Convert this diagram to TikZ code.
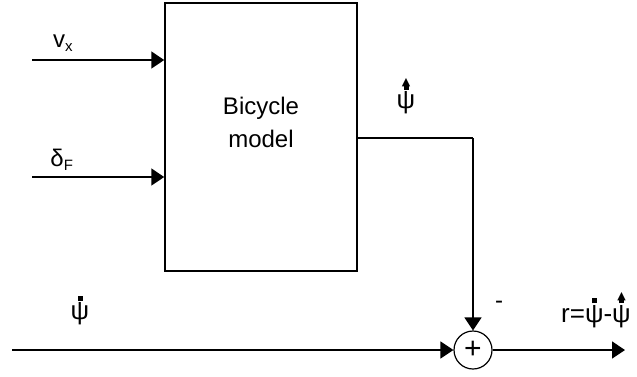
\documentclass[tikz,border=0pt]{standalone}
\usepackage{fontspec}
\setmainfont{Liberation Sans}
\newfontfamily\symfont{DejaVu Sans}
\usetikzlibrary{positioning, arrows.meta}

% psi with a square dot / with a hat
\newcommand\dotpsi{\leavevmode\vbox{\offinterlineskip\halign{\hfil##\hfil\cr\rule{5pt}{5pt}\cr\noalign{\kern1.5pt}ψ\cr}}}
\newcommand\hatpsi{\leavevmode\vbox{\offinterlineskip\halign{\hfil##\hfil\cr{\symfont\fontsize{11}{11}\selectfont▲}\cr\noalign{\kern-2.5pt}\rule{5pt}{5pt}\cr\noalign{\kern1.5pt}ψ\cr}}}

\begin{document}
\begin{tikzpicture}[x=1pt, y=-1pt, font=\fontsize{24}{33}\selectfont]
% Define styles
\tikzstyle{block} = [rectangle, draw=black, line width=1.5pt, minimum width=192pt, minimum height=268pt]
\tikzstyle{sumnode} = [circle, draw=black, line width=1.2pt, minimum size=38pt, inner sep=0pt, font=\fontsize{30}{30}\selectfont]
\tikzstyle{sig} = [line width=1.5pt, -{Triangle[length=13pt,width=17pt]}]
\tikzstyle{wire} = [line width=1.5pt]
\tikzstyle{sublbl} = [font=\fontsize{24}{28}\selectfont, inner sep=0pt]
\tikzstyle{psilbl} = [font=\fontsize{26}{30}\selectfont, inner sep=0pt]

\useasboundingbox (0,0) rectangle (637,376);

% Model block
\node[block] (model) at (261,137) {};
\node[align=center] (modeltxt) at (261,122) {Bicycle\\model};

% Inputs
\coordinate (vxin) at (32,60);
\coordinate (deltain) at (32,177);
\draw[sig] (vxin) -- (model.west |- vxin);
\draw[sig] (deltain) -- (model.west |- deltain);
\node[sublbl] (vx) at (63,43) {v$_{\mbox{\fontsize{15}{18}\selectfont x}}$};
\node[sublbl] (delta) at (62,160) {δ$_{\mbox{\fontsize{15}{18}\selectfont F}}$};

% Summation
\node[sumnode] (sum) at (473,350) {+};

% Estimated yaw rate
\coordinate (corner) at (473,138);
\draw[wire] (model.east |- corner) -- (corner);
\draw[sig] (corner) -- (sum.north);
\node[psilbl] (psihat) at (406,96) {\hatpsi};
\node[sublbl] (minus) at (499,305) {-};

% Measured yaw rate and residual
\coordinate (psiin) at (12,350);
\coordinate (rout) at (625,350);
\draw[sig] (psiin) -- (sum.west);
\draw[sig] (sum.east) -- (rout);
\node[psilbl] (psidot) at (80,310) {\dotpsi};
\node[psilbl, anchor=base west] (resid) at (561,322) {r=\dotpsi-\hatpsi};

\end{tikzpicture}
\end{document}
